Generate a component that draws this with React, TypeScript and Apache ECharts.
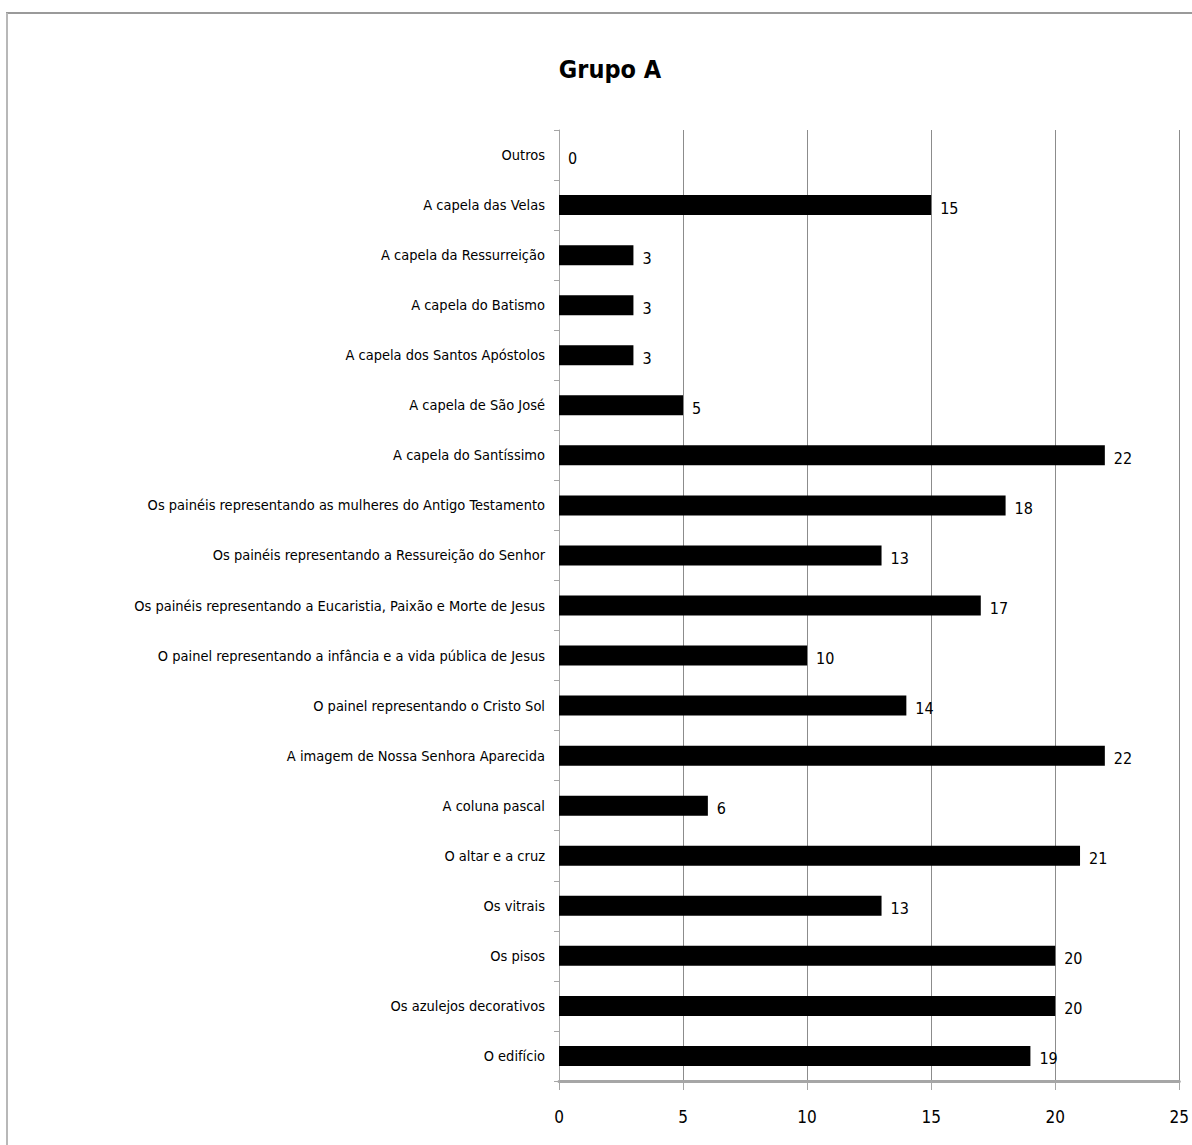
import React, { useEffect, useRef } from "react";
import * as echarts from "echarts";

// Categories listed top to bottom
const categories = [
  "Outros",
  "A capela das Velas",
  "A capela da Ressurreição",
  "A capela do Batismo",
  "A capela dos Santos Apóstolos",
  "A capela de São José",
  "A capela do Santíssimo",
  "Os painéis representando as mulheres do Antigo Testamento",
  "Os painéis representando a Ressureição do Senhor",
  "Os painéis representando a Eucaristia, Paixão e Morte de Jesus",
  "O painel representando a infância e a vida pública de Jesus",
  "O painel representando o Cristo Sol",
  "A imagem de Nossa Senhora Aparecida",
  "A coluna pascal",
  "O altar e a cruz",
  "Os vitrais",
  "Os pisos",
  "Os azulejos decorativos",
  "O edifício",
];

const values = [0, 15, 3, 3, 3, 5, 22, 18, 13, 17, 10, 14, 22, 6, 21, 13, 20, 20, 19];

const xTicks = [0, 5, 10, 15, 20, 25];

const titleText = "Grupo A";

const FONT = "'DejaVu Sans Condensed', 'Liberation Sans Narrow', 'Open Sans', sans-serif";

export default function App() {
  const ref = useRef<HTMLDivElement>(null);

  useEffect(() => {
    if (!ref.current) return;
    const chart = echarts.init(ref.current, null, { renderer: "svg" });
    chart.setOption({
      animation: false,
      backgroundColor: "#ffffff",
      title: {
        text: titleText,
        left: 605,
        top: 52,
        textAlign: "center",
        textStyle: {
          fontFamily: FONT,
          fontWeight: "bold",
          fontSize: 25,
          color: "#000000",
        },
      },
      graphic: [
        {
          type: "line",
          shape: { x1: 6, y1: 13, x2: 1192, y2: 13 },
          style: { stroke: "#9a9a9a", lineWidth: 2 },
        },
        {
          type: "line",
          shape: { x1: 7, y1: 13, x2: 7, y2: 1145 },
          style: { stroke: "#b8b8b8", lineWidth: 2 },
        },
      ],
      grid: { left: 559, right: 11, top: 130, bottom: 64, containLabel: false },
      xAxis: {
        type: "value",
        min: xTicks[0],
        max: xTicks[xTicks.length - 1],
        interval: 5,
        axisLine: { show: true, lineStyle: { color: "#a6a6a6", width: 3 } },
        axisTick: { show: true, length: 9, lineStyle: { color: "#a6a6a6", width: 1 } },
        splitLine: { show: true, lineStyle: { color: "#8c8c8c", width: 1 } },
        axisLabel: {
          margin: 27,
          fontFamily: FONT,
          fontSize: 17,
          color: "#000000",
        },
      },
      yAxis: {
        type: "category",
        data: categories,
        inverse: true,
        axisLine: { show: true, lineStyle: { color: "#a6a6a6", width: 1 } },
        axisTick: { show: true, length: 5, lineStyle: { color: "#a6a6a6" } },
        axisLabel: {
          margin: 14,
          fontFamily: FONT,
          fontSize: 14.5,
          color: "#000000",
        },
      },
      series: [
        {
          type: "bar",
          data: values,
          barWidth: 20,
          itemStyle: { color: "#000000" },
          label: {
            show: true,
            position: "right",
            distance: 9,
            offset: [0, 3],
            fontFamily: FONT,
            fontSize: 16,
            color: "#000000",
          },
        },
      ],
    });
    return () => chart.dispose();
  }, []);

  return (
    <div
      ref={ref}
      style={{ position: "absolute", left: 0, top: 0, width: 1192, height: 1145 }}
    />
  );
}
